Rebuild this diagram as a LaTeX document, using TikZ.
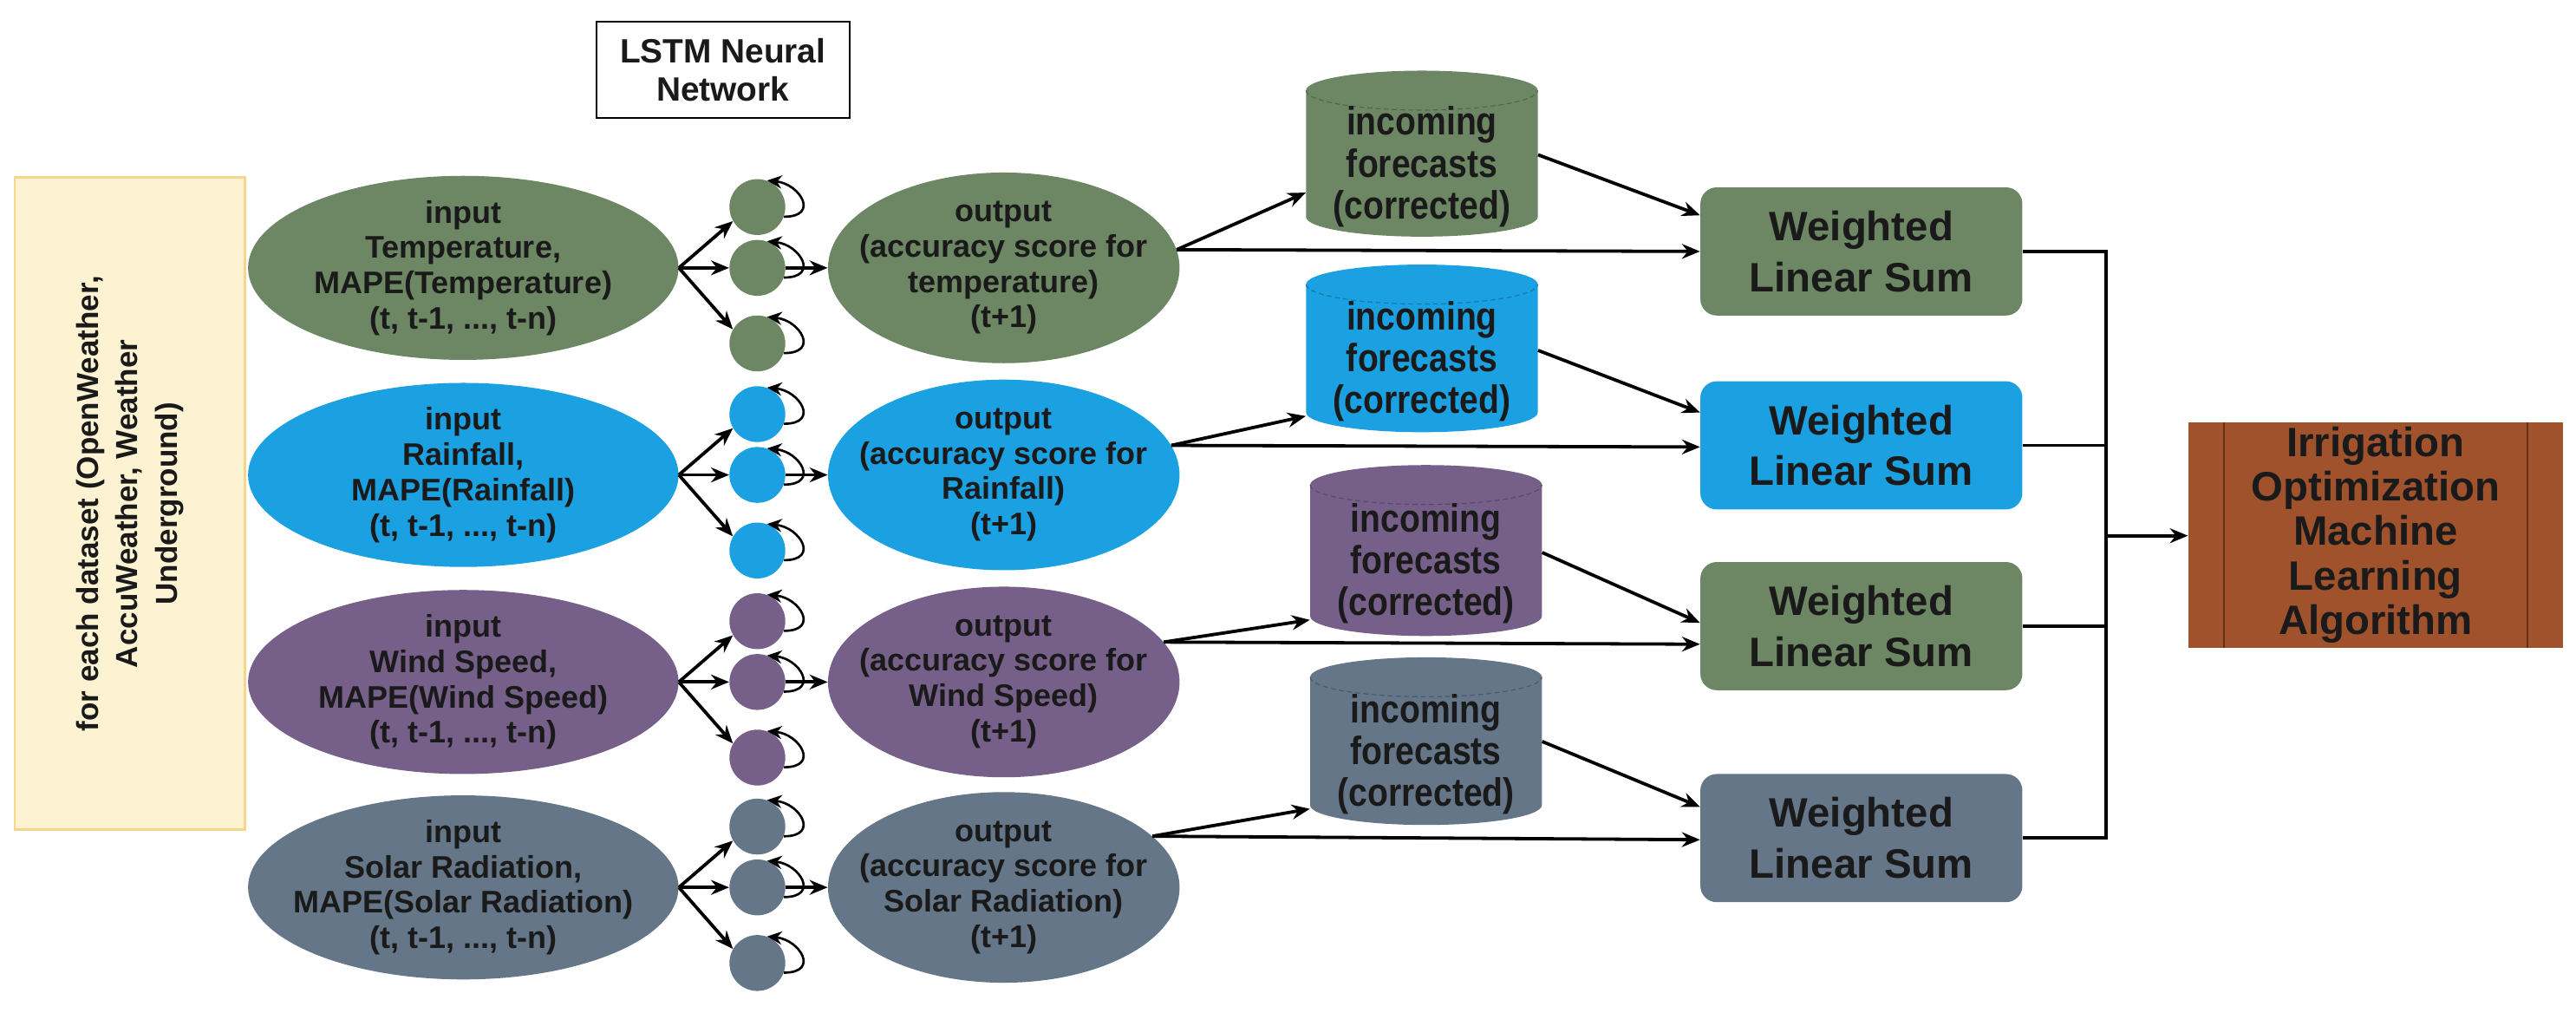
\documentclass[tikz,border=0pt]{standalone}
\usepackage{fontspec}
\setmainfont{Liberation Sans}
\newfontfamily\condf{Liberation Sans}[FakeStretch=0.86]
\usetikzlibrary{arrows.meta,calc,shapes.geometric}
\definecolor{cg}{HTML}{6D8764}
\definecolor{cb}{HTML}{1BA1E2}
\definecolor{cp}{HTML}{76608A}
\definecolor{cs}{HTML}{647687}
\definecolor{cr}{HTML}{A0522D}
\definecolor{txt}{HTML}{1A1A1A}
\newcommand\mycyl[6]{%
  \pgfmathsetmacro\cxl{#2-70.5}\pgfmathsetmacro\cxr{#2+70.5}%
  \pgfmathsetmacro\cyt{-(#3+12)}\pgfmathsetmacro\cyb{-(#4-12)}%
  \pgfmathsetmacro\cym{-(#3+#4)/2}\pgfmathsetmacro\cyh{#4-#3}%
  \fill[#5] (\cxl,\cyt) -- (\cxl,\cyb) arc[start angle=180,end angle=360,x radius=70.5,y radius=12] -- (\cxr,\cyt) arc[start angle=0,end angle=180,x radius=70.5,y radius=12] -- cycle;
  \draw[#5!75!black,densely dashed,line width=0.6pt] (\cxl,\cyt) arc[start angle=180,end angle=360,x radius=70.5,y radius=12];
  \node[minimum width=141pt,minimum height=\cyh pt,inner sep=0pt] (#1) at (#2,\cym) {};
  \node[cyltxt] (#1t) at (#2,\cym-8) {#6};}
\begin{document}
\begin{tikzpicture}[x=1pt,y=1pt,
  ar/.style={line width=2pt,-{Stealth[length=11pt,width=9pt]}},
  ln/.style={line width=2pt},
  ell/.style={ellipse,minimum width=262pt,minimum height=112pt,inner sep=-12pt,align=center,font=\fontsize{19}{21.5}\selectfont\bfseries,text=txt},
  oel/.style={ellipse,minimum width=198pt,minimum height=116pt,inner sep=-12pt,align=center,font=\fontsize{19}{21.5}\selectfont\bfseries,text=txt},
  cir/.style={circle,minimum size=34pt,inner sep=0pt},
  cyltxt/.style={align=center,font=\condf\fontsize{24}{25.5}\selectfont\bfseries,text=txt},
  wls/.style={rectangle,rounded corners=10pt,minimum width=196pt,minimum height=78pt,align=center,font=\fontsize{25}{31}\selectfont\bfseries,text=txt},
  loop/.style={line width=1.4pt,-{Stealth[length=9pt,width=8pt]}}]
\useasboundingbox (0,0) rectangle (1568,-616);
% LSTM box
\node[draw=black,line width=1pt,fill=white,minimum width=154pt,minimum height=59pt,align=center,font=\fontsize{20.5}{23}\selectfont\bfseries,text=txt] (lstm) at (440,-42.5) {LSTM Neural\\Network};
% left box
\node[draw={rgb,255:red,246;green,214;blue,139},line width=1.5pt,fill={rgb,255:red,253;green,243;blue,211},minimum width=140pt,minimum height=397pt,inner sep=0pt] (ds) at (79,-306.5) {};
\node[rotate=90,align=center,font=\fontsize{18.5}{24}\selectfont\bfseries,text=txt] (dst) at (79,-306.5) {for each dataset (OpenWeather,\\AccuWeather, Weather\\Underground)};
% rows
\foreach \i/\y/\c/\nm/\onm in {1/163/cg/{Temperature,\\MAPE(Temperature)}/{temperature)},2/289/cb/{Rainfall,\\MAPE(Rainfall)}/{Rainfall)},3/415/cp/{Wind Speed,\\MAPE(Wind Speed)}/{Wind Speed)},4/540/cs/{Solar Radiation,\\MAPE(Solar Radiation)}/{Solar Radiation)}}{
  \node[ell,fill=\c] (in\i) at (282,-\y) {input\\\nm\\(t, t-1, ..., t-n)};
  \node[oel,fill=\c] (out\i) at (611,-\y) {output\\(accuracy score for\\\onm\\(t+1)};
  \node[cir,fill=\c] (ca\i) at (461,-\y+37) {};
  \node[cir,fill=\c] (cb\i) at (461,-\y) {};
  \node[cir,fill=\c] (cc\i) at (461,-\y-46) {};
  \draw[ar] (in\i.east) -- (ca\i.210);
  \draw[ar] (in\i.east) -- (cb\i.west);
  \draw[ar] (in\i.east) -- (cc\i.150);
  \draw[ar] (cb\i.east) -- (out\i.west);
  \foreach \cc in {ca,cb,cc}{
    \draw[loop] (\cc\i.-20) .. controls +(22,0) and +(20,-2) .. (\cc\i.70);}
}
% cylinders
\mycyl{cy1}{865.5}{43}{144}{cg}{incoming\\forecasts\\(corrected)}
\mycyl{cy2}{865.5}{161}{263}{cb}{incoming\\forecasts\\(corrected)}
\mycyl{cy3}{868}{283}{387}{cp}{incoming\\forecasts\\(corrected)}
\mycyl{cy4}{868}{400}{502}{cs}{incoming\\forecasts\\(corrected)}
% weighted sums
\node[wls,fill=cg] (w1) at (1133,-153) {Weighted\\Linear Sum};
\node[wls,fill=cb] (w2) at (1133,-271) {Weighted\\Linear Sum};
\node[wls,fill=cg] (w3) at (1133,-381) {Weighted\\Linear Sum};
\node[wls,fill=cs] (w4) at (1133,-510) {Weighted\\Linear Sum};
% irrigation
\node[fill=cr,minimum width=228pt,minimum height=137pt,inner sep=0pt,align=center,font=\fontsize{25}{27}\selectfont\bfseries,text=txt] (irr) at (1446,-325.5) {Irrigation\\Optimization\\Machine\\Learning\\Algorithm};
\draw[cr!60!black,line width=1pt] ($(irr.north west)+(22,0)$) -- ($(irr.south west)+(22,0)$);
\draw[cr!60!black,line width=1pt] ($(irr.north east)+(-22,0)$) -- ($(irr.south east)+(-22,0)$);
% output -> cylinders
\draw[ar] (out1.6) -- ($(cy1.south west)+(0,27)$);
\draw[ar] (out2.10) -- ($(cy2.south west)+(0,10)$);
\draw[ar] (out3.14) -- ($(cy3.south west)+(0,10)$);
\draw[ar] (out4.19) -- ($(cy4.south west)+(0,10)$);
% cylinders -> sums
\draw[ar] ($(cy1.south east)+(0,50)$) -- ($(w1.west)+(0,22)$);
\draw[ar] ($(cy2.south east)+(0,50)$) -- ($(w2.west)+(0,20)$);
\draw[ar] ($(cy3.south east)+(0,51)$) -- ($(w3.west)+(0,2)$);
\draw[ar] ($(cy4.south east)+(0,51)$) -- ($(w4.west)+(0,19)$);
% output -> sums
\draw[ar] (out1.6) -- (w1.west);
\draw[ar] (out2.10) -- ($(w2.west)+(0,-1)$);
\draw[ar] (out3.14) -- ($(w3.west)+(0,-11)$);
\draw[ar] (out4.19) -- ($(w4.west)+(0,-1)$);
% merge
\coordinate (mt) at (1282,-153);
\coordinate (mb) at (1282,-510);
\coordinate (mm) at (1282,-326);
\draw[ln] (w1.east) -- (mt) -- (mb) -- (w4.east);
\draw[ln] (w2.east) -- (w2.east -| mt);
\draw[ln] (w3.east) -- (w3.east -| mt);
\draw[ar] (mm) -- (irr.west |- mm);
\end{tikzpicture}
\end{document}
